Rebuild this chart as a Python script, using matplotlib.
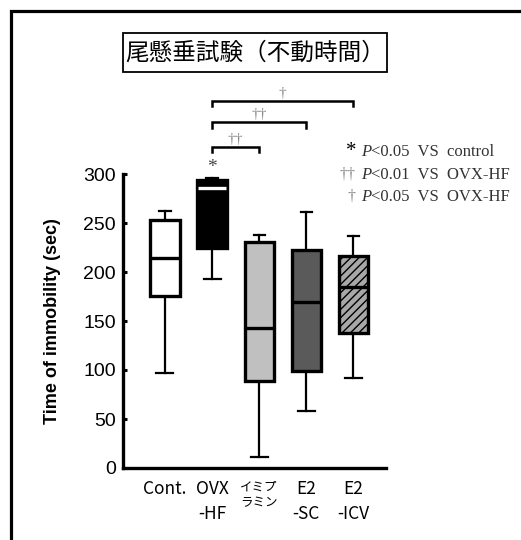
import matplotlib
matplotlib.use('Agg')
import matplotlib.pyplot as plt
from matplotlib.patches import Rectangle

# 尾懸垂試験の不動時間
groups = ['Cont.', 'OVX\n-HF', 'イミプ\nラミン', 'E2\n-SC', 'E2\n-ICV']
whislo = [97, 193, 11, 58, 92]
q1 = [176, 224, 89, 99, 138]
med = [214, 286, 143, 169, 185]
q3 = [253, 294, 231, 222, 216]
whishi = [262, 296, 238, 261, 237]
y_ticks = [0, 50, 100, 150, 200, 250, 300]

face_colors = ['white', 'black', '#c0c0c0', '#5a5a5a', '#a8a8a8']
median_colors = ['black', 'white', 'black', 'black', 'black']

# 有意差ブラケット (群i, 群j, 記号, 高さ)
brackets = [(2, 3, '††', 328), (2, 4, '††', 353), (2, 5, '†', 375)]

W, H = 521, 540
fig = plt.figure(figsize=(W / 100, H / 100), dpi=100)
ax = fig.add_axes([123 / W, 1 - 468 / H, (386 - 123) / W, (468 - 174) / H])

stats = []
for i in range(len(groups)):
    stats.append({'whislo': whislo[i], 'q1': q1[i], 'med': med[i],
                  'q3': q3[i], 'whishi': whishi[i], 'fliers': []})

pos = list(range(1, len(groups) + 1))
bp = ax.bxp(stats, positions=pos, widths=0.62, capwidths=0.36,
            patch_artist=True, showfliers=False,
            boxprops=dict(linewidth=2.4, edgecolor='black'),
            whiskerprops=dict(linewidth=1.6, color='black'),
            capprops=dict(linewidth=1.6, color='black'),
            medianprops=dict(linewidth=2.4))

plt.rcParams['hatch.linewidth'] = 1.0
for i, box in enumerate(bp['boxes']):
    box.set_facecolor(face_colors[i])
    box.set_zorder(3)
    if i == 4:
        box.set_hatch('////')
for i, m in enumerate(bp['medians']):
    m.set_color(median_colors[i])
    m.set_zorder(4)
    m.set_xdata([pos[i] - 0.29, pos[i] + 0.29])
# 上のキャップは短め
for i in range(len(groups)):
    bp['caps'][2 * i + 1].set_xdata([pos[i] - 0.12, pos[i] + 0.12])

ax.set_xlim(0.11, 5.69)
ax.set_ylim(0, 300)
ax.set_yticks(y_ticks)
ax.set_yticklabels([str(v) for v in y_ticks], fontsize=14, family='Liberation Sans')
ax.tick_params(axis='y', direction='in', length=3, width=2.2, pad=5)
ax.tick_params(axis='x', length=0, pad=9)
ax.set_xticks(pos)
ax.set_xticklabels(groups, fontsize=12.5, family=['Noto Sans CJK JP'], linespacing=1.45)
ax.get_xticklabels()[2].set_fontsize(9)
ax.get_xticklabels()[2].set_linespacing(1.3)
ax.set_ylabel('Time of immobility (sec)', fontsize=13, fontweight='bold',
              family='Liberation Sans', labelpad=16)

for s in ['top', 'right']:
    ax.spines[s].set_visible(False)
for s in ['left', 'bottom']:
    ax.spines[s].set_linewidth(2.4)

# OVX-HF の上の *
ax.text(2, q3[1] + 4, '*', ha='center', va='bottom', fontsize=14,
        color='#444444', family='Liberation Serif')

# ブラケット
for a, b, lab, h in brackets:
    ax.plot([a, a, b, b], [h - 6, h, h, h - 6], color='black', lw=1.8,
            clip_on=False, solid_joinstyle='miter')
    ax.text((a + b) / 2, h + 1, lab, ha='center', va='bottom', fontsize=11,
            color='#888888', family='Liberation Serif', clip_on=False)

# 凡例テキスト
rows = [('*', 'black', 15, '<0.05  VS  control', 152),
        ('††', '#888888', 11.5, '<0.01  VS  OVX-HF', 175),
        ('†', '#888888', 11.5, '<0.05  VS  OVX-HF', 197)]
for mark, mc, ms, txt, yp in rows:
    fig.text(356 / W, 1 - yp / H, mark, ha='right', va='center', fontsize=ms,
             color=mc, family='Liberation Serif')
    fig.text(361 / W, 1 - yp / H, 'P', ha='left', va='center', fontsize=12,
             color='#333333', family='Liberation Serif', style='italic')
    fig.text(371 / W, 1 - yp / H, txt, ha='left', va='center', fontsize=12,
             color='#333333', family='Liberation Serif')

# タイトル枠
fig.patches.append(Rectangle((123 / W, 1 - 72 / H), (387 - 123) / W, 39 / H,
                             transform=fig.transFigure, fill=False,
                             edgecolor='black', linewidth=1.3))
fig.text(255 / W, 1 - 53 / H, '尾懸垂試験（不動時間）', ha='center', va='center',
         fontsize=17, family=['Noto Sans CJK JP'])

# 外枠
fig.patches.append(Rectangle((10.5 / W, -0.1), 1.2, 1 - 10.5 / H + 0.1,
                             transform=fig.transFigure, fill=False,
                             edgecolor='black', linewidth=2.3))

fig.savefig('out.png', dpi=100)
